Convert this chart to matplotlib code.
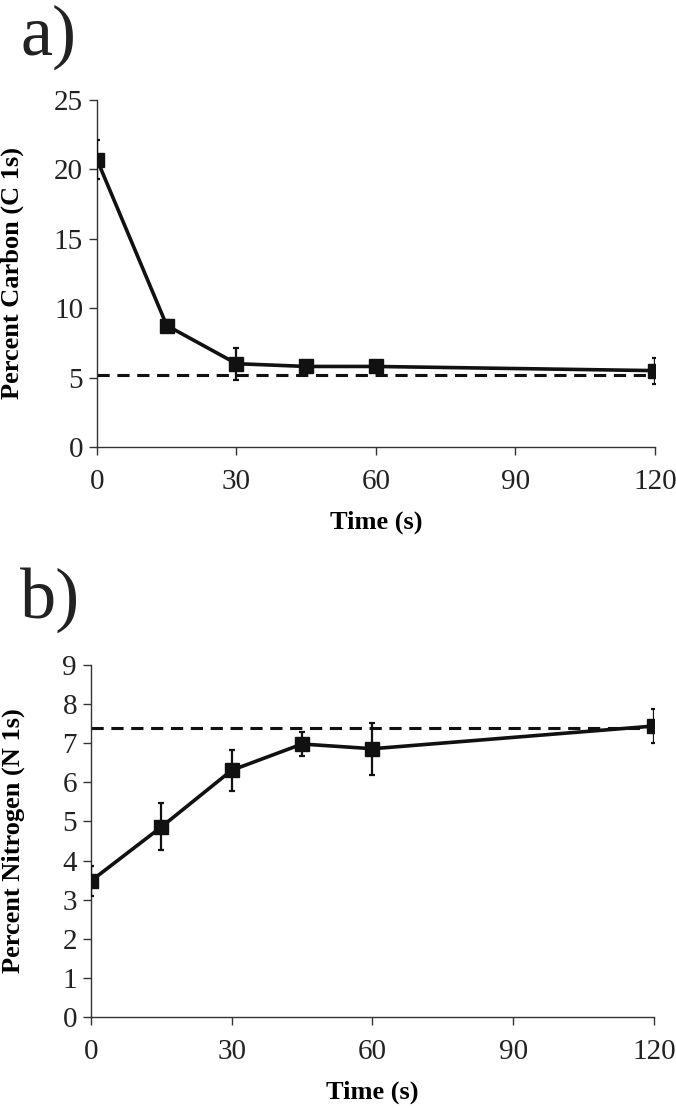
import matplotlib
matplotlib.use("Agg")
import matplotlib.pyplot as plt

plt.rcParams['font.family'] = ['Liberation Serif', 'DejaVu Serif']

# data
time_s = [0, 15, 30, 45, 60, 120]
carbon = [20.7, 8.75, 6.0, 5.8, 5.8, 5.5]
carbon_err = [1.4, 0.4, 1.15, 0.35, 0.25, 0.93]
carbon_ref = 5.2
nitrogen = [3.48, 4.86, 6.31, 6.98, 6.86, 7.44]
nitrogen_err = [0.39, 0.6, 0.53, 0.3, 0.66, 0.43]
nitrogen_ref = 7.39
x_ticks = [0, 30, 60, 90, 120]

fig = plt.figure(figsize=(6.76, 11.08), dpi=100)
ax_a = fig.add_axes([0.1435, 0.5966, 0.8254, 0.3132])
ax_b = fig.add_axes([0.1346, 0.0821, 0.8328, 0.3177])

panels = [
    (ax_a, carbon, carbon_err, carbon_ref, 'Percent Carbon (C 1s)', 25, 5, 'a)', 0.966, -0.13),
    (ax_b, nitrogen, nitrogen_err, nitrogen_ref, 'Percent Nitrogen (N 1s)', 9, 1, 'b)', 0.458, -0.118),
]

for ax, vals, errs, ref, ylab, ymax, ystep, tag, tag_y, ylab_x in panels:
    ax.axhline(ref, color='#111111', lw=2.2, ls=(0, (4, 2.5)), zorder=1)
    ax.errorbar(time_s, vals, yerr=errs, color='#111111', lw=2.6, marker='s',
                ms=10, mfc='#111111', mec='#111111', ecolor='#111111',
                elinewidth=1.6, capsize=2.5, capthick=1.6, zorder=3)
    ax.set_xlim(0, 120)
    ax.set_ylim(0, ymax)
    ax.set_xticks(x_ticks)
    ax.set_yticks(range(0, ymax + 1, ystep))
    for s in ['top', 'right']:
        ax.spines[s].set_visible(False)
    for s in ['left', 'bottom']:
        ax.spines[s].set_color('#333333')
        ax.spines[s].set_linewidth(1.0)
    ax.tick_params(axis='both', direction='out', length=6, width=1.0,
                   color='#333333', labelsize=21, labelcolor='#222222')
    ax.tick_params(axis='x', pad=10)
    ax.tick_params(axis='y', pad=4)
    ax.set_xlabel('Time (s)', fontsize=19, fontweight='bold', labelpad=11)
    ax.set_ylabel(ylab, fontsize=19, fontweight='bold')
    ax.yaxis.set_label_coords(ylab_x, 0.5)
    fig.text(0.03, tag_y, tag, fontsize=52, color='#222222', va='center')

fig.savefig('out.png', dpi=100)
